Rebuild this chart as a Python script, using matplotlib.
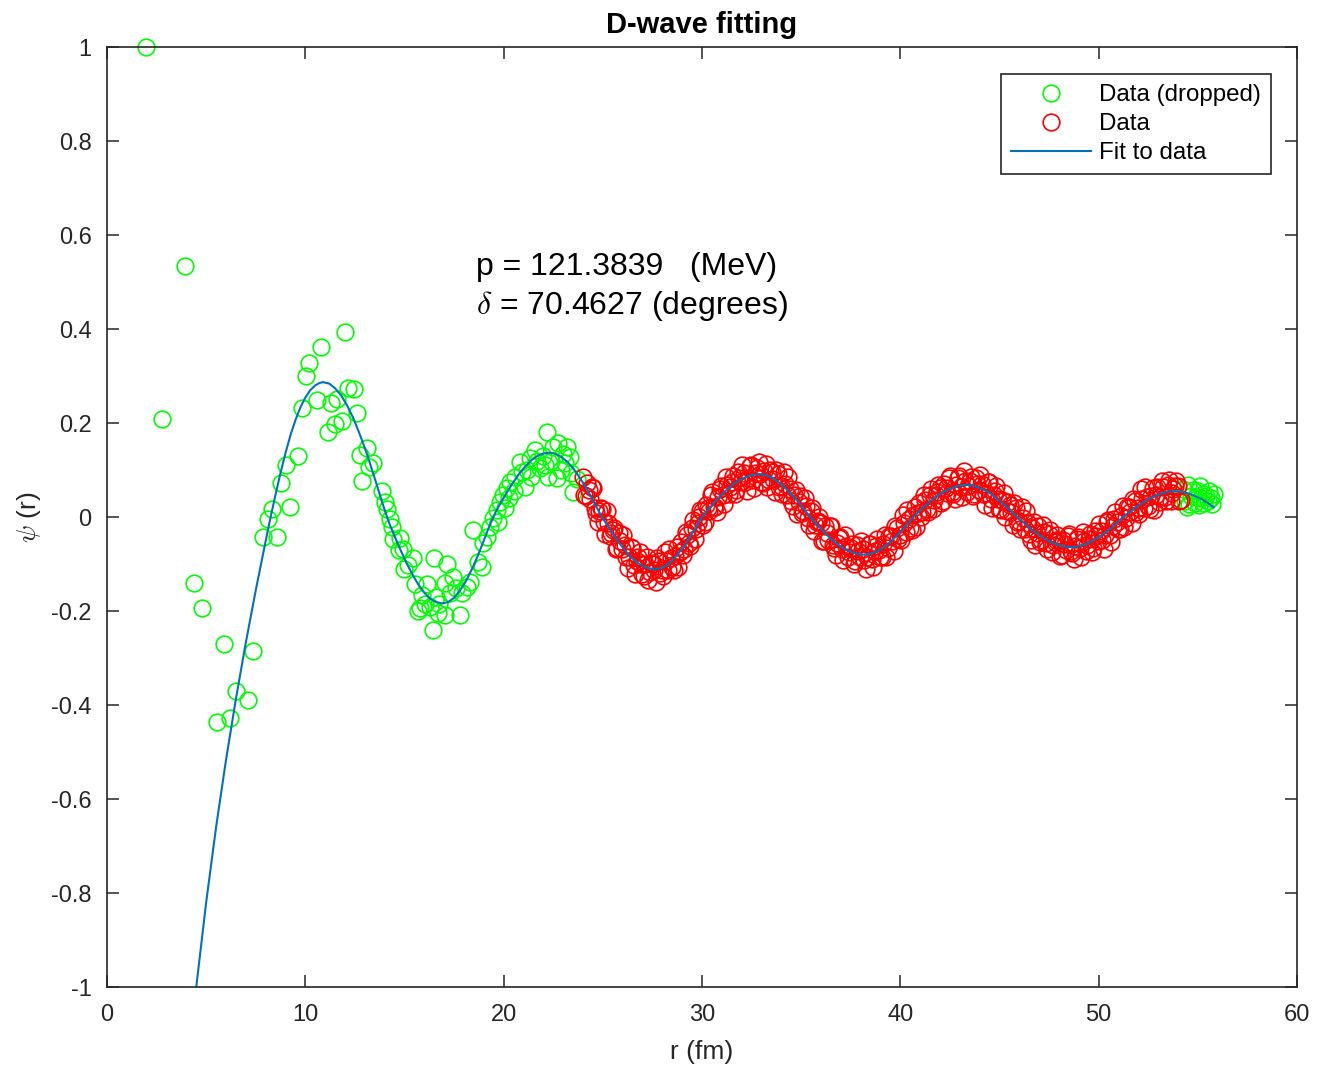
import numpy as np
import matplotlib.pyplot as plt
from matplotlib.ticker import FormatStrFormatter

plt.rcParams['font.family'] = ['Liberation Sans', 'DejaVu Sans']
plt.rcParams['mathtext.fontset'] = 'cm'
plt.rcParams['axes.unicode_minus'] = False

# green points: data not used in the fit (small r and the far tail)
dropped_r = [1.97, 2.77, 3.93, 4.39, 4.79, 5.55, 5.90, 6.20, 6.51, 7.11, 7.36,
             7.85, 8.13, 8.32, 8.59, 8.79, 9.05, 9.23, 9.65, 9.82, 10.02, 10.20,
             10.59, 10.78, 11.12, 11.29, 11.50, 11.58, 11.85, 12.02, 12.15, 12.45,
             12.60, 12.76, 12.84, 13.10, 13.23, 13.43, 13.85, 14.02, 14.14, 14.27,
             14.36, 14.41, 14.74, 14.78, 14.94, 14.98, 15.19, 15.42, 15.53, 15.70,
             15.78, 15.90, 16.04, 16.15, 16.29, 16.42, 16.49, 16.60, 16.71, 16.75,
             17.04, 17.06, 17.16, 17.30, 17.46, 17.60, 17.80, 17.89, 18.14, 18.31,
             18.47, 18.72, 18.89, 18.98, 19.15, 19.31, 19.48, 19.65, 19.70, 19.82,
             19.98, 20.05, 20.16, 20.25, 20.32, 20.50, 20.57, 20.83, 20.90, 21.08,
             21.20, 21.33, 21.40, 21.58, 21.70, 21.84, 22.00, 22.10, 22.17, 22.26,
             22.40, 22.51, 22.68, 22.76, 22.90, 23.01, 23.10, 23.20, 23.35, 23.40,
             23.52, 23.70,
             54.25, 54.35, 54.45, 54.50, 54.55, 54.65, 54.75, 54.85, 54.90, 55.00,
             55.05, 55.10, 55.15, 55.25, 55.30, 55.40, 55.50, 55.55, 55.65, 55.70,
             55.80]
dropped_psi = [1.000, 0.209, 0.534, -0.140, -0.194, -0.436, -0.270, -0.428, -0.370, -0.389, -0.285,
               -0.042, -0.004, 0.017, -0.042, 0.073, 0.111, 0.022, 0.129, 0.231, 0.300, 0.327,
               0.250, 0.362, 0.180, 0.243, 0.197, 0.252, 0.204, 0.394, 0.275, 0.273,
               0.222, 0.133, 0.076, 0.147, 0.107, 0.114, 0.055, 0.033, 0.018, -0.004,
               -0.022, -0.047, -0.070, -0.045, -0.067, -0.111, -0.102, -0.088, -0.143, -0.201,
               -0.194, -0.165, -0.184, -0.143, -0.191, -0.240, -0.087, -0.170, -0.205, -0.184,
               -0.209, -0.140, -0.100, -0.161, -0.127, -0.150, -0.209, -0.162, -0.148, -0.138,
               -0.028, -0.095, -0.106, -0.056, -0.042, -0.021, -0.003, 0.015, -0.010, 0.033,
               0.047, 0.020, 0.061, 0.040, 0.075, 0.055, 0.086, 0.118, 0.095, 0.064,
               0.100, 0.125, 0.085, 0.143, 0.120, 0.104, 0.130, 0.110, 0.181, 0.086,
               0.120, 0.150, 0.082, 0.157, 0.100, 0.135, 0.114, 0.150, 0.128, 0.093,
               0.054, 0.080,
               0.060, 0.035, 0.022, 0.068, 0.028, 0.045, 0.058, 0.030, 0.042, 0.055,
               0.025, 0.065, 0.040, 0.050, 0.030, 0.045, 0.035, 0.055, 0.040, 0.028,
               0.048]

# red points: data used for the fit
data_r = [24.00, 24.15, 24.30, 24.45, 24.60, 24.75, 24.90, 25.05, 25.20, 25.35,
          25.50, 25.65, 25.80, 25.95, 26.10, 26.25, 26.40, 26.55, 26.70, 26.85,
          27.00, 27.15, 27.30, 27.45, 27.60, 27.75, 27.90, 28.05, 28.20, 28.35,
          28.50, 28.65, 28.80, 28.95, 29.10, 29.25, 29.40, 29.55, 29.70, 29.85,
          30.00, 30.15, 30.30, 30.45, 30.60, 30.75, 30.90, 31.05, 31.20, 31.35,
          31.50, 31.65, 31.80, 31.95, 32.10, 32.25, 32.40, 32.55, 32.70, 32.85,
          33.00, 33.15, 33.30, 33.45, 33.60, 33.75, 33.90, 34.05, 34.20, 34.35,
          34.50, 34.65, 34.80, 34.95, 35.10, 35.25, 35.40, 35.55, 35.70, 35.85,
          36.00, 36.15, 36.30, 36.45, 36.60, 36.75, 36.90, 37.05, 37.20, 37.35,
          37.50, 37.65, 37.80, 37.95, 38.10, 38.25, 38.40, 38.55, 38.70, 38.85,
          39.00, 39.15, 39.30, 39.45, 39.60, 39.75, 39.90, 40.05, 40.20, 40.35,
          40.50, 40.65, 40.80, 40.95, 41.10, 41.25, 41.40, 41.55, 41.70, 41.85,
          42.00, 42.15, 42.30, 42.45, 42.60, 42.75, 42.90, 43.05, 43.20, 43.35,
          43.50, 43.65, 43.80, 43.95, 44.10, 44.25, 44.40, 44.55, 44.70, 44.85,
          45.00, 45.15, 45.30, 45.45, 45.60, 45.75, 45.90, 46.05, 46.20, 46.35,
          46.50, 46.65, 46.80, 46.95, 47.10, 47.25, 47.40, 47.55, 47.70, 47.85,
          48.00, 48.15, 48.30, 48.45, 48.60, 48.75, 48.90, 49.05, 49.20, 49.35,
          49.50, 49.65, 49.80, 49.95, 50.10, 50.25, 50.40, 50.55, 50.70, 50.85,
          51.00, 51.15, 51.30, 51.45, 51.60, 51.75, 51.90, 52.05, 52.20, 52.35,
          52.50, 52.65, 52.80, 52.95, 53.10, 53.25, 53.40, 53.55, 53.70, 53.85,
          54.00, 54.15]
data_psi = [0.085, 0.045, 0.057, 0.064, 0.019, -0.010, 0.020, -0.010, 0.013, -0.040,
            -0.028, -0.067, -0.035, -0.068, -0.059, -0.108, -0.063, -0.102, -0.094, -0.074,
            -0.121, -0.100, -0.133, -0.097, -0.112, -0.087, -0.119, -0.126, -0.094, -0.068,
            -0.107, -0.082, -0.106, -0.053, -0.069, -0.039, -0.061, -0.007, -0.026, -0.001,
            0.012, -0.011, 0.020, 0.046, 0.021, 0.011, 0.059, 0.047, 0.085, 0.048,
            0.075, 0.050, 0.095, 0.074, 0.094, 0.055, 0.109, 0.078, 0.093, 0.117,
            0.074, 0.097, 0.064, 0.099, 0.081, 0.101, 0.063, 0.048, 0.071, 0.086,
            0.034, 0.046, 0.007, 0.044, 0.012, 0.024, -0.016, 0.020, -0.016, -0.008,
            -0.013, -0.050, -0.033, -0.020, -0.059, -0.081, -0.044, -0.067, -0.039, -0.085,
            -0.066, -0.099, -0.059, -0.085, -0.069, -0.111, -0.058, -0.090, -0.073, -0.046,
            -0.086, -0.058, -0.084, -0.041, -0.050, -0.020, -0.046, -0.049, -0.013, 0.015,
            -0.023, 0.004, -0.022, 0.029, 0.011, 0.037, 0.010, 0.060, 0.036, 0.054,
            0.061, 0.035, 0.061, 0.084, 0.053, 0.038, 0.082, 0.064, 0.097, 0.054,
            0.076, 0.045, 0.084, 0.057, 0.071, 0.026, 0.075, 0.038, 0.047, 0.066,
            0.018, 0.037, 0.000, 0.032, 0.011, 0.029, -0.010, -0.026, -0.002, 0.013,
            -0.037, -0.023, -0.060, -0.020, -0.048, -0.032, -0.068, -0.027, -0.059, -0.048,
            -0.048, -0.080, -0.058, -0.040, -0.073, -0.090, -0.047, -0.065, -0.031, -0.072,
            -0.047, -0.074, -0.029, -0.051, -0.029, -0.067, -0.010, -0.038, -0.019, 0.011,
            -0.026, 0.003, -0.022, 0.021, 0.011, 0.039, 0.011, 0.006, 0.039, 0.064,
            0.023, 0.045, 0.016, 0.064, 0.042, 0.064, 0.034, 0.079, 0.051, 0.065,
            0.067, 0.036]

# second sweep of fitted-range points (in between the first ones)
data_r2 = [24.075, 24.225, 24.375, 24.525, 24.675, 24.825, 24.975, 25.125, 25.275, 25.425,
           25.575, 25.725, 25.875, 26.025, 26.175, 26.325, 26.475, 26.625, 26.775, 26.925,
           27.075, 27.225, 27.375, 27.525, 27.675, 27.825, 27.975, 28.125, 28.275, 28.425,
           28.575, 28.725, 28.875, 29.025, 29.175, 29.325, 29.475, 29.625, 29.775, 29.925,
           30.075, 30.225, 30.375, 30.525, 30.675, 30.825, 30.975, 31.125, 31.275, 31.425,
           31.575, 31.725, 31.875, 32.025, 32.175, 32.325, 32.475, 32.625, 32.775, 32.925,
           33.075, 33.225, 33.375, 33.525, 33.675, 33.825, 33.975, 34.125, 34.275, 34.425,
           34.575, 34.725, 34.875, 35.025, 35.175, 35.325, 35.475, 35.625, 35.775, 35.925,
           36.075, 36.225, 36.375, 36.525, 36.675, 36.825, 36.975, 37.125, 37.275, 37.425,
           37.575, 37.725, 37.875, 38.025, 38.175, 38.325, 38.475, 38.625, 38.775, 38.925,
           39.075, 39.225, 39.375, 39.525, 39.675, 39.825, 39.975, 40.125, 40.275, 40.425,
           40.575, 40.725, 40.875, 41.025, 41.175, 41.325, 41.475, 41.625, 41.775, 41.925,
           42.075, 42.225, 42.375, 42.525, 42.675, 42.825, 42.975, 43.125, 43.275, 43.425,
           43.575, 43.725, 43.875, 44.025, 44.175, 44.325, 44.475, 44.625, 44.775, 44.925,
           45.075, 45.225, 45.375, 45.525, 45.675, 45.825, 45.975, 46.125, 46.275, 46.425,
           46.575, 46.725, 46.875, 47.025, 47.175, 47.325, 47.475, 47.625, 47.775, 47.925,
           48.075, 48.225, 48.375, 48.525, 48.675, 48.825, 48.975, 49.125, 49.275, 49.425,
           49.575, 49.725, 49.875, 50.025, 50.175, 50.325, 50.475, 50.625, 50.775, 50.925,
           51.075, 51.225, 51.375, 51.525, 51.675, 51.825, 51.975, 52.125, 52.275, 52.425,
           52.575, 52.725, 52.875, 53.025, 53.175, 53.325, 53.475, 53.625, 53.775, 53.925,
           54.075]
data_psi2 = [0.047, 0.073, 0.039, 0.061, 0.009, 0.013, 0.018, -0.037, -0.012, -0.033,
             -0.023, -0.066, -0.052, -0.038, -0.085, -0.085, -0.065, -0.122, -0.085, -0.101,
             -0.125, -0.084, -0.118, -0.100, -0.138, -0.094, -0.113, -0.074, -0.113, -0.088,
             -0.112, -0.063, -0.074, -0.081, -0.031, -0.056, -0.023, -0.047, -0.013, 0.015,
             -0.017, 0.026, 0.012, 0.053, 0.021, 0.043, 0.067, 0.028, 0.068, 0.063,
             0.088, 0.058, 0.084, 0.110, 0.074, 0.083, 0.111, 0.062, 0.104, 0.092,
             0.072, 0.113, 0.079, 0.095, 0.053, 0.092, 0.066, 0.096, 0.047, 0.060,
             0.023, 0.058, 0.031, 0.008, 0.041, -0.002, 0.013, -0.029, -0.011, -0.001,
             -0.050, -0.020, -0.048, -0.020, -0.066, -0.055, -0.042, -0.091, -0.061, -0.075,
             -0.058, -0.094, -0.073, -0.052, -0.091, -0.084, -0.057, -0.106, -0.061, -0.070,
             -0.086, -0.039, -0.066, -0.041, -0.073, -0.024, -0.038, 0.005, -0.031, -0.005,
             -0.027, 0.022, 0.009, 0.000, 0.047, 0.018, 0.046, 0.018, 0.046, 0.068,
             0.030, 0.070, 0.051, 0.088, 0.050, 0.068, 0.087, 0.043, 0.077, 0.066,
             0.086, 0.050, 0.070, 0.090, 0.048, 0.052, 0.074, 0.019, 0.056, 0.039,
             0.014, 0.051, 0.013, 0.026, -0.018, 0.019, -0.008, 0.022, -0.026, -0.013,
             -0.048, -0.011, -0.035, -0.054, -0.017, -0.056, -0.037, -0.074, -0.053, -0.038,
             -0.082, -0.048, -0.071, -0.037, -0.077, -0.061, -0.043, -0.086, -0.050, -0.059,
             -0.036, -0.066, -0.041, -0.015, -0.049, -0.038, -0.007, -0.053, -0.005, -0.011,
             -0.026, 0.023, -0.003, 0.021, -0.013, 0.035, 0.019, 0.059, 0.020, 0.043,
             0.017, 0.062, 0.046, 0.033, 0.076, 0.043, 0.068, 0.035, 0.059, 0.076,
             0.034]

# blue fitted curve
fit_r = [4.4, 4.5, 5.0, 5.5, 6.0, 6.5, 7.0, 7.5, 8.0, 8.25, 8.5, 8.75, 9.0, 9.25,
         9.5, 9.75, 10.0, 10.25, 10.5, 10.7, 10.88, 11.2, 11.5, 11.8, 12.1, 12.4,
         12.7, 13.0, 13.3, 13.6, 13.9, 14.2, 14.5, 14.8, 15.1, 15.4, 15.7, 16.0,
         16.3, 16.6, 16.9, 17.2, 17.5, 17.8, 18.1, 18.4, 18.7, 19.0, 19.3, 19.6,
         19.9, 20.2, 20.5, 20.8, 21.1, 21.4, 21.7, 22.0, 22.3, 22.6, 22.9, 23.2,
         23.5, 23.8, 24.0, 24.3, 24.6, 24.9, 25.2, 25.5, 25.8, 26.1, 26.4, 26.7,
         27.0, 27.3, 27.6, 27.9, 28.2, 28.5, 28.8, 29.1, 29.4, 29.7, 30.0, 30.3,
         30.6, 30.9, 31.2, 31.5, 31.8, 32.1, 32.4, 32.7, 33.0, 33.3, 33.6, 33.9,
         34.2, 34.5, 34.8, 35.1, 35.4, 35.7, 36.0, 36.3, 36.6, 36.9, 37.2, 37.5,
         37.8, 38.1, 38.4, 38.7, 39.0, 39.3, 39.6, 39.9, 40.2, 40.5, 40.8, 41.1,
         41.4, 41.7, 42.0, 42.3, 42.6, 42.9, 43.2, 43.5, 43.8, 44.1, 44.4, 44.7,
         45.0, 45.3, 45.6, 45.9, 46.2, 46.5, 46.8, 47.1, 47.4, 47.7, 48.0, 48.3,
         48.6, 48.9, 49.2, 49.5, 49.8, 50.1, 50.4, 50.7, 51.0, 51.3, 51.6, 51.9,
         52.2, 52.5, 52.8, 53.1, 53.4, 53.7, 54.0, 54.3, 54.6, 54.9, 55.2, 55.5,
         55.8]
fit_psi = [-1.04, -1.0, -0.82, -0.66, -0.517, -0.387, -0.267, -0.156, -0.051, 0.0,
           0.048, 0.094, 0.136, 0.174, 0.206, 0.233, 0.254, 0.270, 0.280, 0.285,
           0.287, 0.284, 0.274, 0.259, 0.238, 0.212, 0.181, 0.147, 0.109, 0.069,
           0.028, -0.010, -0.041, -0.070, -0.098, -0.122, -0.144, -0.161, -0.174,
           -0.181, -0.184, -0.181, -0.172, -0.156, -0.136, -0.111, -0.082, -0.050,
           -0.017, 0.011, 0.034, 0.055, 0.075, 0.093, 0.108, 0.121, 0.130, 0.135,
           0.137, 0.135, 0.128, 0.118, 0.104, 0.086, 0.073, 0.052, 0.028, 0.004,
           -0.016, -0.036, -0.054, -0.070, -0.084, -0.096, -0.104, -0.109, -0.111,
           -0.109, -0.103, -0.092, -0.078, -0.062, -0.042, -0.022, 0.0, 0.015,
           0.030, 0.043, 0.056, 0.067, 0.076, 0.083, 0.088, 0.091, 0.091, 0.088,
           0.082, 0.073, 0.062, 0.049, 0.035, 0.019, 0.003, -0.012, -0.025, -0.038,
           -0.050, -0.060, -0.068, -0.074, -0.078, -0.080, -0.079, -0.075, -0.069,
           -0.060, -0.049, -0.036, -0.022, -0.008, 0.006, 0.018, 0.029, 0.040,
           0.049, 0.056, 0.062, 0.066, 0.068, 0.068, 0.065, 0.060, 0.054, 0.045,
           0.035, 0.024, 0.012, 0.0, -0.011, -0.022, -0.032, -0.041, -0.049,
           -0.055, -0.060, -0.063, -0.064, -0.063, -0.060, -0.055, -0.048, -0.040,
           -0.031, -0.021, -0.009, 0.002, 0.012, 0.021, 0.030, 0.038, 0.044,
           0.049, 0.053, 0.055, 0.055, 0.053, 0.049, 0.044, 0.038, 0.030, 0.021]

x_ticks = [0, 10, 20, 30, 40, 50, 60]
y_ticks = [-1, -0.8, -0.6, -0.4, -0.2, 0, 0.2, 0.4, 0.6, 0.8, 1]

p_text = 'p = 121.3839   (MeV)'
delta_text = r'$\delta$ = 70.4627 (degrees)'

axis_col = '#262626'

fig = plt.figure(figsize=(13.21, 10.74), dpi=100)
ax = fig.add_axes([0.081, 0.081, 0.9008, 0.8752])

ax.plot(dropped_r, dropped_psi, 'o', mfc='none', mec=(0, 1, 0), ms=12,
        mew=1.2, clip_on=False, label='Data (dropped)')
ax.plot(np.concatenate([data_r, data_r2]), np.concatenate([data_psi, data_psi2]),
        'o', mfc='none', mec=(1, 0, 0), ms=12, mew=1.2, clip_on=False, label='Data')
ax.plot(fit_r, fit_psi, '-', color='#0072BD', lw=1.5, label='Fit to data')

ax.set_xlim(0, 60)
ax.set_ylim(-1, 1)
ax.set_xticks(x_ticks)
ax.set_yticks(y_ticks)
ax.yaxis.set_major_formatter(FormatStrFormatter('%g'))
ax.xaxis.set_major_formatter(FormatStrFormatter('%g'))

for sp in ax.spines.values():
    sp.set_color(axis_col)
    sp.set_linewidth(1.2)
ax.tick_params(direction='in', length=8.5, width=1.1, top=True, right=True,
               labelsize=17, color=axis_col, labelcolor=axis_col)
ax.tick_params(axis='x', pad=12)
ax.tick_params(axis='y', pad=11)

ax.set_title('D-wave fitting', fontsize=21, fontweight='bold', pad=10)
ax.set_xlabel('r (fm)', fontsize=19, color=axis_col, labelpad=10)
ax.set_ylabel(r'$\psi$ (r)', fontsize=19, color=axis_col, labelpad=6)

ax.text(18.6, 0.532, p_text, fontsize=23, va='center', ha='left')
ax.text(18.6, 0.449, delta_text, fontsize=23, va='center', ha='left')

leg = ax.legend(loc='upper right', bbox_to_anchor=(0.978, 0.971),
                borderaxespad=0, fontsize=17.4, fancybox=False, framealpha=1,
                edgecolor=axis_col, handlelength=3.3, handletextpad=0.33,
                labelspacing=0.28, borderpad=0.42, numpoints=1)
leg.get_frame().set_linewidth(1.2)

fig.savefig('out.png', dpi=100, facecolor='white')
